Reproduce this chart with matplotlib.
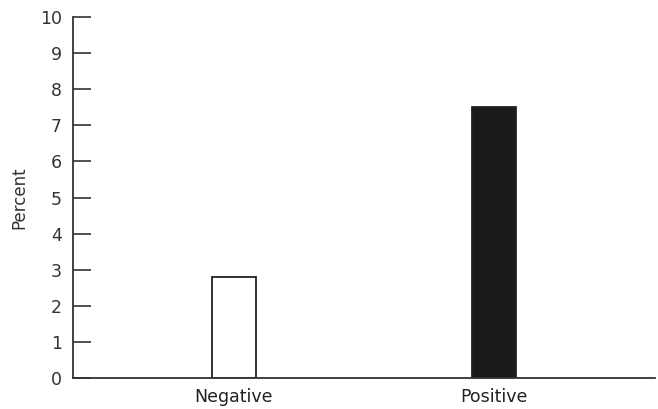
import matplotlib.pyplot as plt

categories = ['Negative', 'Positive']
percent = [2.8, 7.5]
colors = ['white', '#1a1a1a']

fig = plt.figure(figsize=(6.58, 4.09), dpi=100)
ax = fig.add_axes([0.111, 0.076, 0.884, 0.882])

x = range(len(categories))
ax.bar(x, percent, width=0.17, color=colors, edgecolor='#222222', linewidth=1.3)

ax.set_xlim(-0.618, 1.616)
ax.set_ylim(0, 10)
ax.set_yticks(range(0, 11))
ax.set_xticks(list(x))
ax.set_xticklabels(categories, fontsize=12.5, color='#222222')
ax.tick_params(axis='x', length=0, pad=7)
ax.tick_params(axis='y', direction='in', length=13, width=1.2, color='#333333',
               labelsize=12.5, labelcolor='#333333', pad=8)

for side in ['top', 'right']:
    ax.spines[side].set_visible(False)
for side in ['left', 'bottom']:
    ax.spines[side].set_linewidth(1.3)
    ax.spines[side].set_color('#333333')

ax.set_ylabel('Percent', fontsize=12, color='#333333', labelpad=8)

fig.savefig('out.png', dpi=100)
